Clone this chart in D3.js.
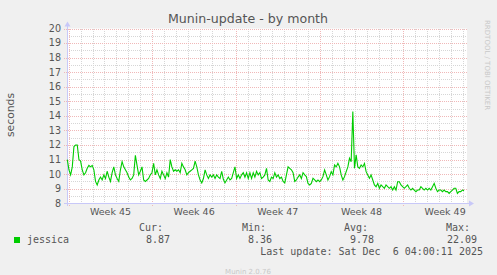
<!DOCTYPE html>
<html>
<head>
<meta charset="utf-8">
<script src="https://cdn.jsdelivr.net/npm/d3@7"></script>
<style>
  html, body { margin: 0; padding: 0; background: #f0f0f0; }
  svg { display: block; }
  text { font-family: "DejaVu Sans", sans-serif; fill: #555; }
  .mono { font-family: "DejaVu Sans Mono", monospace; }
</style>
</head>
<body>
<div id="chart"></div>
<script>
// values, one every 3h20m
var values = [
  11.0, 10.3, 9.95, 10.5, 11.9, 12.0, 12.0, 11.0, 10.9, 10.3,
  9.95, 10.1, 10.4, 10.6, 10.5, 10.6, 10.3, 9.5, 9.26, 9.6,
  9.8, 9.6, 9.95, 9.7, 10.2, 9.8, 9.5, 10.1, 10.5, 9.95,
  9.7, 9.5, 10.3, 10.86, 10.5, 10.3, 10.1, 9.8, 9.6, 9.7,
  9.95, 11.3, 10.6, 9.95, 10.2, 10.5, 9.6, 9.5,
  9.6, 9.7, 9.95, 10.1, 10.75, 9.95, 10.3, 9.95, 9.7, 10.2,
  9.95, 9.7, 10.1, 9.8, 11.0, 10.5, 10.2, 10.3, 10.2, 10.3,
  10.1, 10.75, 10.5, 10.3, 9.95, 10.1, 10.2, 10.3, 10.4, 10.9,
  10.5, 9.95, 9.6, 9.4, 9.7, 10.3, 9.95, 9.7, 9.95, 9.8,
  9.95, 9.7, 9.95, 9.8, 9.7, 10.2, 9.65,
  9.4, 9.6, 9.8, 9.6, 9.7, 10.1, 10.5, 9.7, 9.95, 9.7,
  9.95, 10.1, 9.8, 10.1, 9.7, 10.1, 9.7, 10.1, 9.8, 10.2,
  9.95, 10.1, 9.7, 9.8, 9.95, 10.4, 9.6, 9.5, 9.8, 9.7,
  10.1, 9.8, 9.95, 9.7, 9.8, 9.5, 9.4, 9.95, 10.5, 10.4,
  10.3, 10.1, 9.5, 9.6, 9.8, 9.95, 9.7, 10.1,
  9.95, 9.83, 9.37, 9.26, 9.37, 9.72, 9.6, 9.48, 9.6, 9.48,
  9.6, 9.83, 10.29, 9.95, 9.6, 9.83, 10.17, 9.95, 10.63, 10.5,
  10.74, 10.5, 9.95, 9.6, 9.83, 10.17, 10.5, 11.09, 10.86, 14.3,
  10.4, 11.32, 10.5, 10.4, 10.63, 10.5, 10.74, 10.17, 9.95, 9.72,
  9.95, 9.6, 9.26, 9.14, 9.37, 9.03, 9.26, 9.14,
  9.03, 9.26, 9.14, 9.03, 9.14, 8.91, 9.14, 8.91, 9.48, 9.48,
  9.26, 9.14, 9.03, 9.14, 9.26, 9.03, 8.91, 9.03, 8.91, 8.8,
  8.91, 8.91, 9.14, 9.03, 8.91, 9.03, 8.91, 9.03, 8.91, 9.14,
  9.37, 9.03, 8.8, 8.91, 8.91, 8.8, 8.91, 8.8, 8.8, 8.68,
  8.8, 8.91, 9.03, 9.03, 8.68, 8.8, 8.8, 8.91, 8.87
];
var firstTime = Date.UTC(2025, 10, 2, 21, 20);
var stepMs = 200 * 60 * 1000;

var yTicks = [8, 9, 10, 11, 12, 13, 14, 15, 16, 17, 18, 19, 20];
var legendHeads = ["Cur:", "Min:", "Avg:", "Max:"];
var legendValues = ["8.87", "8.36", "9.78", "22.09"];
var seriesName = "jessica";

var W = 497, H = 275;
var plotLeft = 67, plotRight = 467, plotTop = 28.5, plotBottom = 203.3;

var svg = d3.select("#chart").append("svg")
    .attr("width", W)
    .attr("height", H);

var start = new Date(Date.UTC(2025, 10, 2, 20, 43));
var end = new Date(Date.UTC(2025, 11, 6, 7, 55));
var x = d3.scaleUtc().domain([start, end]).range([plotLeft, plotRight]);
var y = d3.scaleLinear().domain([8, 20]).range([plotBottom, plotTop]);

// plot background
svg.append("rect")
    .attr("x", plotLeft).attr("y", plotTop)
    .attr("width", plotRight - plotLeft).attr("height", plotBottom - plotTop)
    .attr("fill", "#fff");

var grid = svg.append("g").attr("shape-rendering", "crispEdges");
var minorColor = "#d6d6d6", majorColor = "#f0b8b8";

// minor grid
d3.range(8.5, 20, 1).forEach(function (v) {
    var yy = Math.round(y(v)) + 0.5;
    grid.append("line")
        .attr("x1", plotLeft).attr("x2", plotRight)
        .attr("y1", yy).attr("y2", yy)
        .attr("stroke", minorColor).attr("stroke-dasharray", "1,1");
});
d3.utcDay.range(start, end).forEach(function (d) {
    var xx = Math.round(x(d)) + 0.5;
    grid.append("line")
        .attr("x1", xx).attr("x2", xx)
        .attr("y1", plotTop).attr("y2", plotBottom)
        .attr("stroke", minorColor).attr("stroke-dasharray", "1,1");
});

// major grid
yTicks.forEach(function (v) {
    var yy = Math.round(y(v)) + 0.5;
    grid.append("line")
        .attr("x1", plotLeft - 3).attr("x2", plotRight)
        .attr("y1", yy).attr("y2", yy)
        .attr("stroke", majorColor).attr("stroke-dasharray", "1,1");
});
d3.utcMonday.range(start, end).forEach(function (d) {
    var xx = Math.round(x(d)) + 0.5;
    grid.append("line")
        .attr("x1", xx).attr("x2", xx)
        .attr("y1", plotTop).attr("y2", plotBottom + 3)
        .attr("stroke", majorColor).attr("stroke-dasharray", "1,1");
});

// axes
var axisColor = "#c8c8f8";
var by = Math.round(plotBottom) + 0.5;
grid.append("line")
    .attr("x1", plotLeft - 3).attr("x2", plotRight + 3)
    .attr("y1", by).attr("y2", by)
    .attr("stroke", axisColor);
grid.append("line")
    .attr("x1", plotLeft + 0.5).attr("x2", plotLeft + 0.5)
    .attr("y1", plotBottom + 3).attr("y2", plotTop - 4)
    .attr("stroke", axisColor);
svg.append("path")
    .attr("d", "M" + (plotRight + 2) + "," + (by - 3) + "L" + (plotRight + 7) + "," + by + "L" + (plotRight + 2) + "," + (by + 3) + "Z")
    .attr("fill", axisColor);
svg.append("path")
    .attr("d", "M" + (plotLeft - 2.5) + "," + (plotTop - 2) + "L" + (plotLeft + 0.5) + "," + (plotTop - 7) + "L" + (plotLeft + 3.5) + "," + (plotTop - 2) + "Z")
    .attr("fill", axisColor);

// y labels
svg.append("g").selectAll("text")
    .data(yTicks)
    .enter().append("text")
    .attr("x", 61)
    .attr("y", function (d) { return y(d) + 3.4; })
    .attr("text-anchor", "end")
    .style("font-size", "9.6px")
    .text(function (d) { return d; });

// week labels
var weekFmt = d3.utcFormat("%V");
var weeks = d3.utcMonday.range(d3.utcMonday.floor(start), end);
svg.append("g").selectAll("text")
    .data(weeks.filter(function (d) {
        var c = d3.utcHour.offset(d, 84);
        return c > start && c < end;
    }))
    .enter().append("text")
    .attr("x", function (d) { return x(d3.utcHour.offset(d, 84)); })
    .attr("y", 215.3)
    .attr("text-anchor", "middle")
    .style("font-size", "9.5px")
    .text(function (d) { return "Week " + (+weekFmt(d)); });

// series line
var line = d3.line()
    .x(function (d, i) { return x(new Date(firstTime + i * stepMs)); })
    .y(function (d) { return y(d); });

svg.append("path")
    .datum(values)
    .attr("d", line)
    .attr("fill", "none")
    .attr("stroke", "#00cc00")
    .attr("stroke-width", 1.1);

// title
svg.append("text")
    .attr("x", 248).attr("y", 22.5)
    .attr("text-anchor", "middle")
    .style("font-size", "12.6px")
    .text("Munin-update - by month");

// y title
svg.append("text")
    .attr("transform", "translate(14,115) rotate(-90)")
    .attr("text-anchor", "middle")
    .style("font-size", "10.8px")
    .text("seconds");

// right side credit
svg.append("text")
    .attr("transform", "translate(485,20) rotate(90)")
    .attr("text-anchor", "start")
    .style("font-size", "7px")
    .style("fill", "#c8c8c8")
    .text("RRDTOOL / TOBI OETIKER");

// legend
var headEnds = [163, 266, 368, 470];
var valueEnds = [170, 272, 374, 477];
var legend = svg.append("g");
legend.selectAll(".head")
    .data(legendHeads)
    .enter().append("text")
    .attr("class", "mono")
    .attr("x", function (d, i) { return headEnds[i]; })
    .attr("y", 230.5)
    .attr("text-anchor", "end")
    .style("font-size", "10px")
    .text(function (d) { return d; });
legend.selectAll(".val")
    .data(legendValues)
    .enter().append("text")
    .attr("class", "mono")
    .attr("x", function (d, i) { return valueEnds[i]; })
    .attr("y", 242.5)
    .attr("text-anchor", "end")
    .style("font-size", "10px")
    .text(function (d) { return d; });

legend.append("rect")
    .attr("x", 14).attr("y", 237)
    .attr("width", 6).attr("height", 6)
    .attr("fill", "#00cc00");
legend.append("text")
    .attr("class", "mono")
    .attr("x", 27).attr("y", 242.5)
    .style("font-size", "10px")
    .text(seriesName);

legend.append("text")
    .attr("class", "mono")
    .attr("x", 483).attr("y", 254.5)
    .attr("text-anchor", "end")
    .style("white-space", "pre")
    .style("font-size", "10px")
    .text("Last update: Sat Dec  6 04:00:11 2025");

svg.append("text")
    .attr("x", 248).attr("y", 273.5)
    .attr("text-anchor", "middle")
    .style("font-size", "7px")
    .style("fill", "#c8c8c8")
    .text("Munin 2.0.76");
</script>
</body>
</html>
